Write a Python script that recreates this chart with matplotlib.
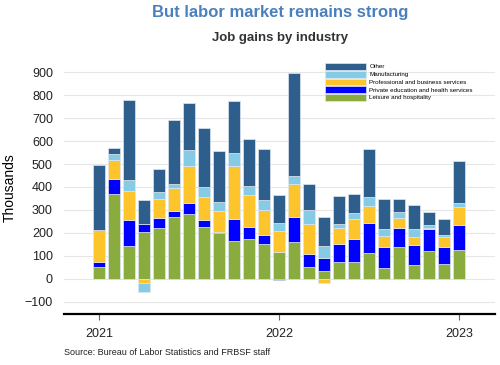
import numpy as np
import matplotlib
matplotlib.use('Agg')
import matplotlib.pyplot as plt

plt.rcParams['font.family'] = ['Liberation Sans', 'DejaVu Sans']

# monthly job gains, thousands, Jan 2021 .. Jan 2023
leisure = [52, 371, 143, 204, 223, 271, 283, 225, 199, 164, 175, 149, 116,
           161, 52, 35, 72, 74, 113, 48, 138, 61, 122, 64, 126]
education = [20, 62, 112, 36, 42, 22, 45, 29, 3, 96, 49, 41, -6,
             110, 55, 55, 77, 97, 128, 91, 81, 84, 96, 75, 107]
professional = [142, 85, 126, -20, 83, 103, 162, 101, 93, 230, 139, 110, 93,
                141, 133, -17, 72, 88, 77, 48, 46, 36, 1, 42, 80]
manufacturing = [-3, 25, 48, -39, 30, 16, 72, 45, 41, 57, 42, 42, 33,
                 36, 59, 52, 19, 28, 39, 30, 26, 36, 13, 10, 19]
other = [280, 27, 351, 104, 101, 278, 203, 258, 223, 230, 204, 223, 125,
         451, 112, 129, 122, 81, 209, 132, 57, 104, 58, 67, 183]

series = [
    ('Leisure and hospitality', leisure, '#8aac3e'),
    ('Private education and health services', education, '#0000ff'),
    ('Professional and business services', professional, '#fec42c'),
    ('Manufacturing', manufacturing, '#86cbe6'),
    ('Other', other, '#2e5f8c'),
]
year_ticks = [0, 12, 24]
year_labels = ['2021', '2022', '2023']

fig = plt.figure(figsize=(5, 3.65), dpi=100)
ax = fig.add_axes([0.128, 0.140, 0.862, 0.690])

x = np.arange(len(leisure))
pos = np.zeros(len(x))
neg = np.zeros(len(x))
handles = []
for name, vals, col in series:
    v = np.array(vals, dtype=float)
    bottom = np.where(v >= 0, pos, neg)
    b = ax.bar(x, v, bottom=bottom, width=0.8, color=col,
               edgecolor='#dfe7ef', linewidth=0.5, label=name, zorder=3)
    handles.append(b)
    pos = pos + np.where(v >= 0, v, 0)
    neg = neg + np.where(v < 0, v, 0)

ax.set_xlim(-2.35, 26.4)
ax.set_ylim(-154, 945)
ax.set_yticks(range(-100, 1000, 100))
ax.tick_params(axis='y', length=0, labelsize=9, pad=8, labelcolor='#222222')
ax.set_xticks(year_ticks)
ax.set_xticklabels(year_labels)
ax.tick_params(axis='x', length=4, color='#666666', labelsize=9, pad=6,
               labelcolor='#222222')
ax.grid(axis='y', color='#e6e6e6', linewidth=0.8, zorder=0)
for s in ['top', 'right', 'left']:
    ax.spines[s].set_visible(False)
ax.spines['bottom'].set_linewidth(1.6)
ax.spines['bottom'].set_color('black')
ax.set_ylabel('Thousands', fontsize=10, labelpad=6)

fig.text(0.56, 0.965, 'But labor market remains strong', ha='center', va='center',
         fontsize=12, fontweight='bold', color='#4b80bf')
fig.text(0.56, 0.895, 'Job gains by industry', ha='center', va='center',
         fontsize=9.5, fontweight='bold', color='#333333')
fig.text(0.128, 0.035, 'Source: Bureau of Labor Statistics and FRBSF staff',
         ha='left', va='center', fontsize=6.5, color='#222222')

fig.legend(handles[::-1], [s[0] for s in series][::-1], loc='upper left',
           bbox_to_anchor=(0.65, 1 - 63 / 365), frameon=False, fontsize=4.5,
           handlelength=6.6, handleheight=1.3, labelspacing=0.15,
           handletextpad=0.5, borderpad=0, borderaxespad=0)

fig.savefig('out.png', dpi=100)
